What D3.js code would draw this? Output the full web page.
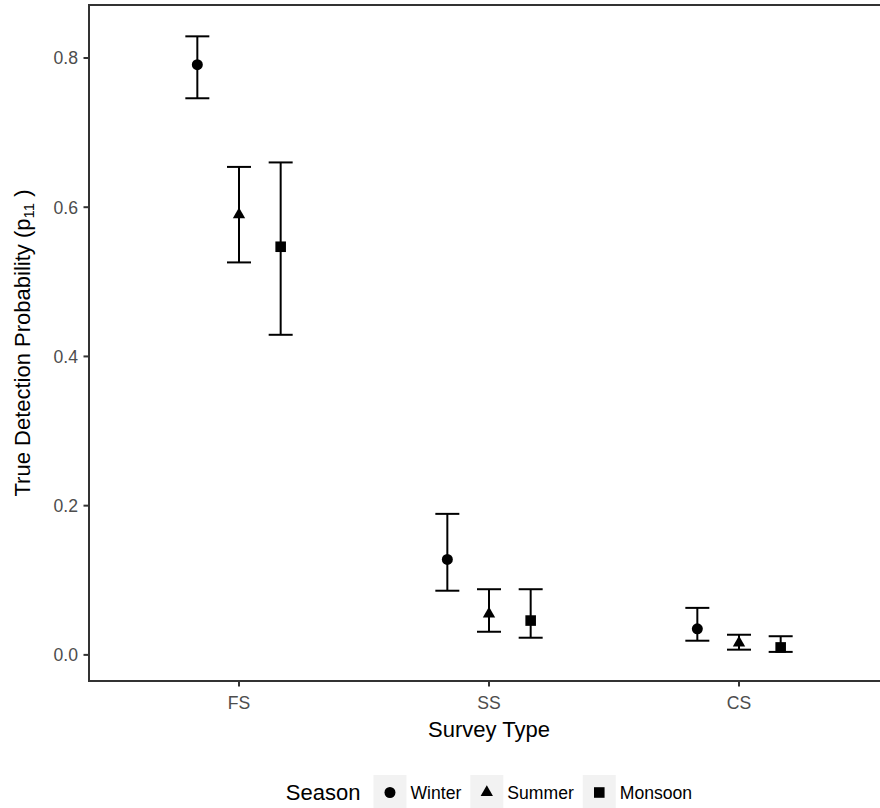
<!DOCTYPE html>
<html lang="en">
<head>
<meta charset="UTF-8">
<title>True Detection Probability</title>
<style>
  body { margin: 0; background: #fff; }
  text { font-family: "Liberation Sans", Arial, sans-serif; }
  .tick-label { fill: #4d4d4d; font-size: 17.6px; }
  .axis-title { fill: #000; font-size: 22px; }
  .legend-label { fill: #000; font-size: 17.6px; }
</style>
</head>
<body>
<svg width="880" height="808"></svg>
<script src="https://cdn.jsdelivr.net/npm/d3@7"></script>
<script>

// data
var categories = ["FS", "SS", "CS"];
var seasons = ["Winter", "Summer", "Monsoon"];
var estimate = {
  Winter:  [0.791, 0.128, 0.035],
  Summer:  [0.590, 0.055, 0.016],
  Monsoon: [0.547, 0.046, 0.010]
};
var lower = {
  Winter:  [0.746, 0.086, 0.019],
  Summer:  [0.526, 0.031, 0.007],
  Monsoon: [0.429, 0.023, 0.004]
};
var upper = {
  Winter:  [0.829, 0.189, 0.063],
  Summer:  [0.654, 0.088, 0.027],
  Monsoon: [0.660, 0.088, 0.025]
};
var yTicks = [0.0, 0.2, 0.4, 0.6, 0.8];

var svg = d3.select("svg"),
    panel = {left: 89, top: 5, right: 889, bottom: 681};

var x = d3.scalePoint().domain(categories).range([panel.left, panel.right]).padding(0.6),
    y = d3.scaleLinear().domain([-0.035, 0.871]).range([panel.bottom, panel.top]);

var dodge = x.step() / 6;

var symbols = {
  Winter:  d3.symbol().type(d3.symbolCircle).size(95),
  Summer:  d3.symbol().type(d3.symbolTriangle).size(66),
  Monsoon: d3.symbol().type(d3.symbolSquare).size(112)
};

var rows = [];
seasons.forEach(function (s, si) {
  categories.forEach(function (c, ci) {
    rows.push({cat: c, season: s, si: si, est: estimate[s][ci], lo: lower[s][ci], hi: upper[s][ci]});
  });
});

// panel border
svg.append("rect")
    .attr("x", panel.left)
    .attr("y", panel.top)
    .attr("width", panel.right - panel.left)
    .attr("height", panel.bottom - panel.top)
    .attr("fill", "none")
    .attr("stroke", "#333")
    .attr("stroke-width", 2);

// y axis
var yAxis = svg.append("g");
yTicks.forEach(function (t) {
  yAxis.append("line")
      .attr("x1", panel.left - 5.5).attr("x2", panel.left)
      .attr("y1", y(t)).attr("y2", y(t))
      .attr("stroke", "#333").attr("stroke-width", 2);
  yAxis.append("text")
      .attr("class", "tick-label")
      .attr("x", panel.left - 11)
      .attr("y", y(t))
      .attr("dy", "0.36em")
      .attr("text-anchor", "end")
      .text(d3.format(".1f")(t));
});

// x axis
var xAxis = svg.append("g");
categories.forEach(function (c) {
  xAxis.append("line")
      .attr("x1", x(c)).attr("x2", x(c))
      .attr("y1", panel.bottom).attr("y2", panel.bottom + 5.5)
      .attr("stroke", "#333").attr("stroke-width", 2);
  xAxis.append("text")
      .attr("class", "tick-label")
      .attr("x", x(c))
      .attr("y", 709)
      .attr("text-anchor", "middle")
      .text(c);
});

// axis titles
svg.append("text")
    .attr("class", "axis-title")
    .attr("x", (panel.left + panel.right) / 2)
    .attr("y", 737)
    .attr("text-anchor", "middle")
    .text("Survey Type");

var yTitle = svg.append("text")
    .attr("class", "axis-title")
    .attr("text-anchor", "middle")
    .attr("transform", "translate(30," + ((panel.top + panel.bottom) / 2) + ") rotate(-90)");
yTitle.append("tspan").text("True Detection Probability (p");
yTitle.append("tspan").attr("font-size", "15px").attr("dy", 4).text("11");
yTitle.append("tspan").attr("dy", -4).text(" )");

// error bars
var bars = svg.append("g").selectAll("g")
    .data(rows)
    .join("g")
    .attr("transform", function (d) { return "translate(" + (x(d.cat) + (d.si - 1) * dodge) + ",0)"; })
    .attr("stroke", "#000")
    .attr("stroke-width", 2);

bars.append("line")
    .attr("y1", function (d) { return y(d.lo); })
    .attr("y2", function (d) { return y(d.hi); });
bars.append("line")
    .attr("x1", -12).attr("x2", 12)
    .attr("y1", function (d) { return y(d.lo); })
    .attr("y2", function (d) { return y(d.lo); });
bars.append("line")
    .attr("x1", -12).attr("x2", 12)
    .attr("y1", function (d) { return y(d.hi); })
    .attr("y2", function (d) { return y(d.hi); });

// points
svg.append("g").selectAll("path")
    .data(rows)
    .join("path")
    .attr("d", function (d) { return symbols[d.season](); })
    .attr("transform", function (d) {
      return "translate(" + (x(d.cat) + (d.si - 1) * dodge) + "," + y(d.est) + ")";
    })
    .attr("fill", "#000");

// legend
var legend = svg.append("g");
var legTitle = legend.append("text")
    .attr("class", "axis-title")
    .attr("y", 800)
    .text("Season");

var keySize = 33, cursor = legTitle.node().getComputedTextLength() + 13;
seasons.forEach(function (s) {
  var g = legend.append("g").attr("transform", "translate(" + cursor + ",775)");
  g.append("rect")
      .attr("width", keySize).attr("height", keySize)
      .attr("fill", "#f2f2f2");
  g.append("path")
      .attr("d", symbols[s]())
      .attr("transform", "translate(" + keySize / 2 + "," + (keySize / 2 + 1) + ")")
      .attr("fill", "#000");
  var t = g.append("text")
      .attr("class", "legend-label")
      .attr("x", keySize + 4)
      .attr("y", 24)
      .text(s);
  cursor += keySize + 4 + t.node().getComputedTextLength() + 9;
});
var legWidth = cursor - 9;
legend.attr("transform", "translate(" + ((panel.left + panel.right) / 2 - legWidth / 2) + ",0)");

</script>
</body>
</html>
